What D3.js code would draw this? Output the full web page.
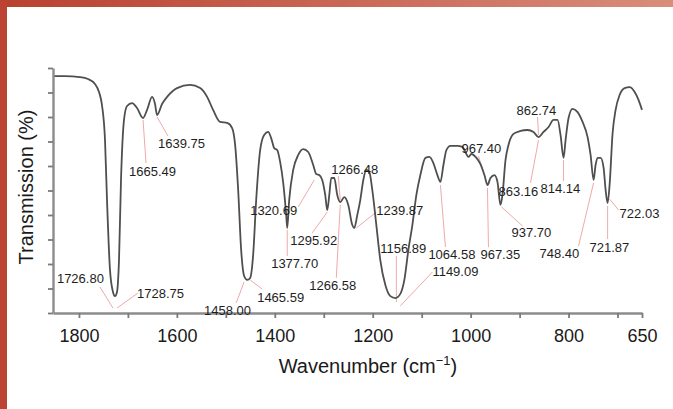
<!DOCTYPE html>
<html>
<head>
<meta charset="utf-8">
<script src="https://cdn.jsdelivr.net/npm/d3@7"></script>
<style>
  body { margin: 0; background: #fff; }
  svg { display: block; font-family: "Liberation Sans", Arial, sans-serif; }
</style>
</head>
<body>
<svg width="673" height="409"></svg>
<script>
// spectrum: wavenumber (cm-1) and transmission (%)
var wavenumber = [1853, 1828.6, 1798, 1781.6, 1767.3, 1759, 1753, 1746.8, 1742.7, 1736.6,
  1730.5, 1726.4, 1722.3, 1718.2, 1714.1, 1708, 1701.8, 1691.6, 1681.4, 1669.1,
  1660.9, 1650.7, 1644.6, 1640.5, 1630.3, 1620, 1599.6, 1573, 1552.5, 1538.2,
  1526, 1511.7, 1497.3, 1487.1, 1481, 1474.8, 1468.7, 1462.6, 1456.4, 1450.3,
  1444.2, 1438, 1429.9, 1421.7, 1413.5, 1407.4, 1401.2, 1395.1, 1389, 1382.8,
  1376.7, 1374.6, 1370.6, 1362.4, 1352.1, 1341.9, 1331.7, 1321.5, 1315.3, 1309.2,
  1303.1, 1297, 1292.8, 1288.7, 1284.7, 1278.5, 1272.4, 1266.3, 1258.1, 1249.9,
  1241.7, 1237.6, 1231.5, 1225.4, 1219.2, 1213.1, 1207, 1200.8, 1192.6, 1184.5,
  1174.2, 1164, 1153.8, 1143.6, 1135.4, 1127.2, 1119, 1110.8, 1102.7, 1092.4,
  1084.3, 1076.1, 1067.9, 1061.7, 1055.6, 1049.5, 1041.3, 1027, 1016.8, 1010.6,
  1004.5, 998.4, 988.1, 980, 971.8, 965.6, 959.5, 951.3, 945.2, 939.1,
  935, 928.8, 922.7, 912.5, 898.2, 883.8, 871.6, 861.3, 851.1, 840.9,
  830.7, 822.5, 816.4, 810.2, 806.1, 800, 791.8, 781.6, 771.4, 761.1,
  755, 748.9, 744.8, 740.7, 734.5, 728.4, 724.3, 720.2, 716.2, 710,
  703.9, 695.7, 685.5, 675.3, 665, 656.9, 650];
var transmission = [96.7, 96.7, 96.3, 95.5, 93.5, 90.2, 84.9, 70.6, 46.1, 17.6,
  8.6, 6.9, 8.6, 21.6, 54.3, 78.8, 84.5, 85.7, 83.7, 79.6,
  82.9, 88.2, 85.3, 80.8, 85.3, 88.2, 91.8, 93.1, 91.8, 88.2,
  82.9, 78, 77.6, 75.5, 68.6, 50.2, 25.7, 15.1, 13.5, 14.3,
  23.7, 46.1, 66.5, 72.7, 73.9, 71.4, 67.3, 66.5, 61.6, 53.1,
  40, 34.7, 46.1, 58.4, 64.5, 66.9, 65.7, 60.4, 56.7, 56.3,
  54.3, 48.2, 42, 48.2, 55.1, 55.1, 48.2, 45.3, 47.3, 44.1,
  35.9, 34.7, 40, 46.1, 54.3, 58.4, 57.6, 50.2, 35.9, 21.6,
  11.4, 6.9, 6.1, 7.8, 13.5, 25.7, 35.9, 48.2, 56.3, 63.3,
  63.7, 61.2, 56.3, 53.5, 60.4, 66.5, 68.2, 68.2, 67.8, 65.7,
  63.7, 64.9, 63.3, 60.8, 56.3, 52.2, 55.1, 56.3, 53.5, 44.1,
  48.2, 62.4, 68.6, 73.1, 74.3, 74.7, 73.9, 71.8, 73.9, 75.9,
  78.8, 78.8, 72.7, 63.3, 70.6, 79.6, 83.3, 82, 78, 71.8,
  64.5, 54.3, 60.4, 63.3, 63.3, 59.2, 50.2, 44.9, 52.2, 73.5,
  82.9, 89, 91.8, 92.2, 90.2, 86.9, 82.9];

// peak annotations
var peakLabels = ["1726.80", "1728.75", "1665.49", "1639.75", "1458.00", "1465.59",
  "1320.69", "1377.70", "1295.92", "1266.58", "1266.48", "1239.87",
  "1156.89", "1064.58", "1149.09", "967.40", "967.35", "937.70",
  "862.74", "863.16", "814.14", "748.40", "721.87", "722.03"];

// where each label sits and where its leader runs, in [wavenumber, transmission]
var labelAt = [[1845, 12.2], [1681.4, 6.1], [1697.8, 55.9], [1638.4, 67.3], [1544.4, -0.8], [1436, 4.5],
  [1450.3, 40], [1407.4, 18.4], [1368.5, 27.8], [1329.7, 9.4], [1284.7, 56.7], [1192.6, 40],
  [1184.5, 24.5], [1086.3, 22], [1078.1, 15.1], [1018.8, 65.3], [980, 22], [916.6, 31],
  [906.3, 80.8], [943.1, 47.8], [857.3, 49], [859.3, 22.4], [757.1, 24.9], [695.7, 38.8]];
var leaderFrom = [[1757.1, 10.6], [1679.3, 8.2], [1663, 61.2], [1618, 72.2], [1478.9, 4.1], [1425.8, 9.8],
  [1352.1, 43.3], [1374.6, 23.3], [1323.5, 32.7], [1274.4, 14.3], [1270.3, 55.9], [1192.6, 41.2],
  [1151.7, 23.3], [1051.5, 26.9], [1078.1, 16.7], [984, 64.1], [963.6, 26.9], [894.1, 35.5],
  [863.4, 80], [877.7, 53.1], [810.2, 53.9], [779.6, 27.3], [720.2, 30.2], [697.8, 42]];
var leaderTo = [[1730.5, 2], [1722.3, 2], [1669.1, 78.8], [1640.5, 80], [1462.6, 12.7], [1450.3, 13.5],
  [1319.4, 54.3], [1374.6, 33.9], [1292.8, 41.2], [1266.3, 44.1], [1266.3, 46.1], [1233.5, 34.7],
  [1151.7, 4.5], [1061.7, 52.2], [1143.6, 2.9], [965.6, 52.2], [965.6, 51], [937, 43.3],
  [861.3, 72.7], [861.3, 70.6], [810.2, 62.4], [748.9, 53.1], [720.2, 43.7], [716.2, 46.5]];

var xTicks = [1800, 1700, 1600, 1500, 1400, 1300, 1200, 1100, 1000, 900, 800, 700, 650];
var xTickLabels = [1800, 1600, 1400, 1200, 1000, 800, 650];
var yTicks = [0, 10, 20, 30, 40, 50, 60, 70, 80, 90, 100];

var width = 673;
var height = 409;

var xScale = d3.scaleLinear().domain([1853, 650]).range([53, 642]);
var yScale = d3.scaleLinear().domain([0, 100]).range([313, 68]);

var svg = d3.select('svg');

// red frame on the left and top
var grad = svg.append('defs').append('linearGradient').attr('id', 'topbar');
grad.append('stop').attr('offset', '0%').attr('stop-color', '#b9402f');
grad.append('stop').attr('offset', '100%').attr('stop-color', '#d98d7b');
svg.append('rect').attr('x', 0).attr('y', 0).attr('width', width).attr('height', 7).attr('fill', 'url(#topbar)');
svg.append('rect').attr('x', 0).attr('y', 0).attr('width', 7).attr('height', height).attr('fill', '#bc4232');

// leader lines
svg.append('g')
  .selectAll('line')
  .data(peakLabels)
  .enter()
  .append('line')
    .attr('x1', (d, i) => xScale(leaderFrom[i][0]))
    .attr('y1', (d, i) => yScale(leaderFrom[i][1]))
    .attr('x2', (d, i) => xScale(leaderTo[i][0]))
    .attr('y2', (d, i) => yScale(leaderTo[i][1]))
    .attr('stroke', '#eeaaa8')
    .attr('stroke-width', 1);

// spectrum
var points = wavenumber.map((w, i) => [w, transmission[i]]);
var line = d3.line()
  .x(d => xScale(d[0]))
  .y(d => yScale(d[1]))
  .curve(d3.curveMonotoneX);

svg.append('path')
  .datum(points)
  .attr('d', line)
  .attr('fill', 'none')
  .attr('stroke', '#4f4f4f')
  .attr('stroke-width', 1.8)
  .attr('stroke-linejoin', 'round');

// axes
var xAxis = d3.axisBottom(xScale)
  .tickValues(xTicks)
  .tickSize(5)
  .tickSizeOuter(0)
  .tickFormat(d => xTickLabels.includes(d) ? d : '');

var yAxis = d3.axisLeft(yScale)
  .tickValues(yTicks)
  .tickSize(5)
  .tickSizeOuter(0)
  .tickFormat('');

var gx = svg.append('g')
  .attr('transform', `translate(0,${yScale(0)})`)
  .call(xAxis);
var gy = svg.append('g')
  .attr('transform', `translate(${xScale(1853)},0)`)
  .call(yAxis);

[gx, gy].forEach(g => {
  g.select('.domain').attr('stroke', '#8c8c8c').attr('stroke-width', 2.4);
  g.selectAll('.tick line').attr('stroke', '#7a7a7a').attr('stroke-width', 1.8);
});
gx.selectAll('.tick text')
  .attr('fill', '#1a1a1a')
  .style('font-size', '18px')
  .attr('dy', '0')
  .attr('y', 29);

// peak labels
svg.append('g')
  .selectAll('text')
  .data(peakLabels)
  .enter()
  .append('text')
    .attr('x', (d, i) => xScale(labelAt[i][0]))
    .attr('y', (d, i) => yScale(labelAt[i][1]))
    .attr('fill', '#1e1e1e')
    .style('font-size', '13px')
    .text(d => d);

// axis titles
var xTitle = svg.append('text')
  .attr('x', 368)
  .attr('y', 373)
  .style('text-anchor', 'middle')
  .style('font-size', '20px')
  .attr('fill', '#1a1a1a');
xTitle.append('tspan').text('Wavenumber (cm');
xTitle.append('tspan').attr('dy', -8).style('font-size', '13px').text('\u22121');
xTitle.append('tspan').attr('dy', 8).text(')');

svg.append('text')
  .attr('transform', 'rotate(-90)')
  .attr('x', -187)
  .attr('y', 33)
  .style('text-anchor', 'middle')
  .style('font-size', '20px')
  .attr('fill', '#1a1a1a')
  .text('Transmission (%)');
</script>
</body>
</html>
